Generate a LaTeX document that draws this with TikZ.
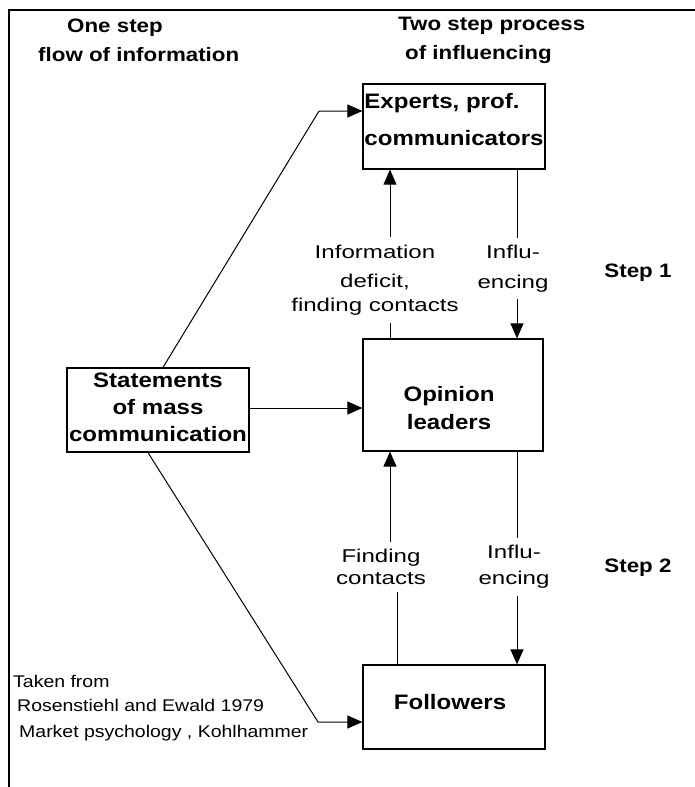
\documentclass[tikz,border=0pt]{standalone}
\usepackage{fontspec}
\setmainfont{Liberation Sans}
\newfontfamily\hfont[FakeStretch=1.15]{Liberation Sans}
\newfontfamily\lfont[FakeStretch=1.3]{Liberation Sans}
\usetikzlibrary{arrows.meta}
\newcommand\bxf[1]{\hfont\bfseries\fontsize{21}{#1}\selectfont}
\newcommand\lbf[1]{\lfont\fontsize{18.6}{#1}\selectfont}
\begin{document}
\begin{tikzpicture}[x=1bp,y=-1bp,
  box/.style={draw, line width=1.2bp, inner sep=0pt},
  boxtxt/.style={font=\bxf{27}, align=center, inner sep=0pt},
  head/.style={font=\hfont\bfseries\fontsize{19.5}{29}\selectfont, align=left, inner sep=0pt, anchor=west},
  lab/.style={align=center, inner xsep=0pt, inner ysep=7bp},
  conn/.style={line width=1bp},
  arr/.style={conn, -{Triangle[length=15bp,width=13bp]}},
  src/.style={font=\hfont\fontsize{17}{20}\selectfont, anchor=base west, inner sep=0pt},
  steplab/.style={font=\hfont\bfseries\fontsize{19.5}{24}\selectfont, anchor=base, inner sep=0pt}]
\useasboundingbox (0,0) rectangle (695,787);
% frame
\draw[line width=2bp] (9,787) -- (9,10) -- (695,10);

% boxes
\node[box, minimum width=182bp, minimum height=85bp] (experts) at (454,126.5) {};
\node[box, minimum width=180bp, minimum height=112bp] (opinion) at (453,395) {};
\node[box, minimum width=182bp, minimum height=84bp] (followers) at (454,707) {};
\node[box, minimum width=182bp, minimum height=84bp] (statements) at (158,410) {};

% box texts
\node[boxtxt, font=\bxf{37.5}, align=left] (expertstxt) at (454,119.5) {Experts, prof.\\communicators};
\node[boxtxt, font=\bxf{27}] (statementstxt) at (158,407.5) {Statements\\of mass\hspace*{16bp}\\communication};
\node[boxtxt, font=\bxf{29}] (opiniontxt) at (449,408) {Opinion\\leaders};
\node[boxtxt, anchor=base] (followerstxt) at (450,709) {Followers};

% headers
\node[head] (head1) at (38,40.4) {\hspace*{29bp}One step\\flow of information};
\node[head] (head2) at (398,40.4) {Two step process\\\hspace*{7bp}of influencing};

% labels
\node[lab, font=\lbf{24}] (lab1) at (375,280.2) {Information\\[6bp]deficit,\\finding contacts};
\node[lab, font=\lbf{30}] (lab2) at (513,268.3) {Influ-\\encing};
\node[lab, font=\lbf{22}] (lab3) at (381,567.2) {Finding\\contacts};
\node[lab, font=\lbf{26.7}] (lab4) at (514,566.8) {Influ-\\encing};

% step labels
\node[steplab] (step1) at (638,277) {Step 1};
\node[steplab] (step2) at (638,572) {Step 2};

% source
\node[src] (src1) at (13,687) {Taken from};
\node[src] (src2) at (17,711) {Rosenstiehl and Ewald 1979};
\node[src] (src3) at (19,737) {Market psychology , Kohlhammer};

% vertical connectors
\coordinate (xl) at (390,0);
\coordinate (xr) at (517,0);
\coordinate (xl2) at (397,0);
\draw[conn] (opinion.north -| xl) -- (lab1.south -| xl);
\draw[arr] (lab1.north -| xl) -- (experts.south -| xl);
\draw[conn] (experts.south -| xr) -- (lab2.north -| xr);
\draw[arr] (lab2.south -| xr) -- (opinion.north -| xr);
\draw[conn] (followers.north -| xl2) -- (lab3.south -| xl2);
\draw[arr] (lab3.north -| xl) -- (opinion.south -| xl);
\draw[conn] (opinion.south -| xr) -- (lab4.north -| xr);
\draw[arr] (lab4.south -| xr) -- (followers.north -| xr);

% one-step connectors
\coordinate (k1) at (319,111);
\coordinate (k2) at (318,722);
\draw[arr] ([xshift=5bp]statements.north) -- (k1) -- (experts.west |- k1);
\draw[arr] ([yshift=2bp]statements.east) -- ([yshift=2bp]statements.east -| opinion.west);
\draw[arr] ([xshift=-10bp]statements.south) -- (k2) -- (followers.west |- k2);
\end{tikzpicture}
\end{document}
